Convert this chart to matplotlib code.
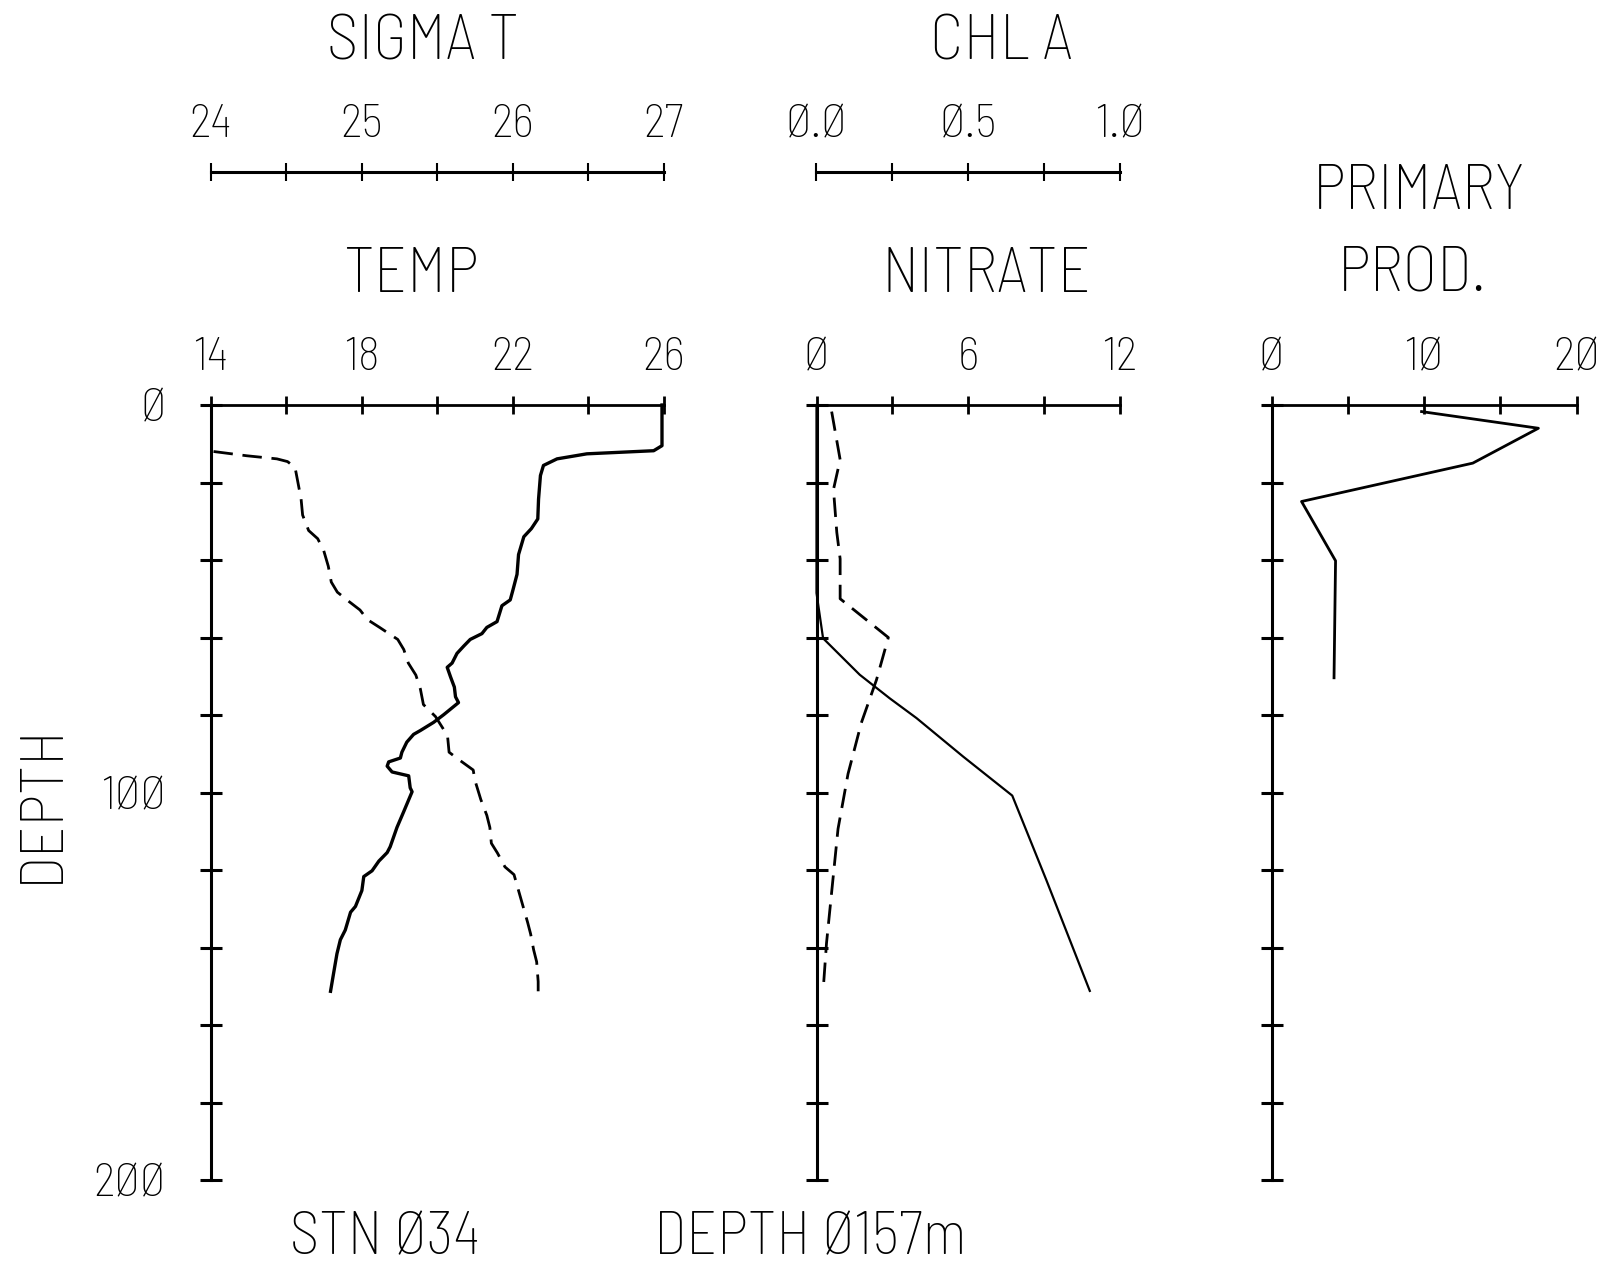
import matplotlib
matplotlib.use("Agg")
import matplotlib.pyplot as plt
from matplotlib import font_manager as fm
from matplotlib.ticker import FixedLocator, FixedFormatter

_names = {f.name for f in fm.fontManager.ttflist}
_pref = ['Barlow Semi Condensed', 'Barlow Condensed', 'Roboto Condensed', 'Liberation Sans Narrow',
         'PT Sans Narrow', 'Archivo Narrow', 'Fira Sans Condensed', 'DejaVu Sans']
FONT = next(n for n in _pref if n in _names)
plt.rcParams['font.family'] = [FONT, 'DejaVu Sans']
plt.rcParams['font.weight'] = 'light'

# ---------------- data ----------------
temp_depth = [0, 10.5, 11.8, 12.6, 13.9, 15.6, 18.2, 24.3, 29.4, 31.9, 34.0, 38.6, 43.7, 47.8,
              50.3, 51.8, 55.9, 57.4, 59.0, 60.5, 62.2, 64.1, 66.6, 67.7, 70.2, 72.8, 75.3,
              76.8, 79.9, 81.9, 84.0, 85.0, 87.0, 89.6, 91.1, 92.1, 93.2, 94.7, 95.7, 98.8,
              99.8, 104.9, 109.0, 114.0, 115.5, 117.7, 120.2, 121.7, 125.3, 129.4, 130.9,
              135.5, 138.0, 141.6, 146.7, 151.3]
temp_val = [25.96, 25.96, 25.74, 23.97, 23.18, 22.82, 22.74, 22.69, 22.67, 22.50, 22.30, 22.16,
            22.12, 22.01, 21.94, 21.72, 21.59, 21.32, 21.19, 20.88, 20.71, 20.53, 20.40, 20.27,
            20.36, 20.46, 20.49, 20.57, 20.18, 19.91, 19.56, 19.38, 19.20, 19.07, 19.03, 18.72,
            18.68, 18.81, 19.25, 19.29, 19.34, 19.12, 18.94, 18.76, 18.68, 18.46, 18.28, 18.06,
            18.01, 17.84, 17.71, 17.57, 17.44, 17.35, 17.26, 17.18]

sigma_depth = [12.0, 13.1, 13.9, 14.6, 16.1, 20.2, 24.3, 28.4, 32.4, 34.5, 37.6, 41.6, 45.7,
               48.3, 50.8, 52.9, 55.4, 57.4, 60.5, 63.1, 66.6, 69.7, 73.3, 77.3, 80.4, 83.5,
               85.5, 89.6, 91.1, 94.2, 96.7, 101.8, 105.9, 109.0, 113.1, 115.6, 119.2, 121.2,
               125.3, 129.4, 133.5, 136.5, 140.6, 143.7, 148.8, 151.3]
sigma_val = [24.02, 24.24, 24.44, 24.51, 24.56, 24.58, 24.60, 24.61, 24.65, 24.71, 24.75, 24.78,
             24.80, 24.84, 24.92, 24.99, 25.04, 25.12, 25.24, 25.28, 25.31, 25.36, 25.39, 25.41,
             25.49, 25.54, 25.57, 25.58, 25.63, 25.74, 25.75, 25.79, 25.83, 25.85, 25.86, 25.90,
             25.95, 26.01, 26.04, 26.07, 26.10, 26.12, 26.14, 26.16, 26.17, 26.17]

nitrate_depth = [0, 48.5, 60.2, 69.6, 75.7, 80.8, 90.7, 100.8, 122.6, 151.2]
nitrate_val = [0.0, 0.0, 0.26, 1.71, 2.90, 3.96, 5.80, 7.75, 9.10, 10.82]

chl_depth = [1.7, 14.1, 21.8, 32.9, 39.7, 50.0, 60.0, 70.9, 82.0, 95.2, 109.4, 138.9, 151.0]
chl_val = [0.050, 0.078, 0.056, 0.067, 0.078, 0.078, 0.237, 0.198, 0.148, 0.104, 0.071, 0.033, 0.022]

pp_depth = [1.7, 6.0, 15.0, 24.9, 40.2, 70.4]
pp_val = [9.84, 17.5, 13.2, 1.97, 4.2, 4.1]

depth_ticks = [0, 20, 40, 60, 80, 100, 120, 140, 160, 180, 200]
depth_labels = ['Ø', '', '', '', '', '1ØØ', '', '', '', '', '2ØØ']

temp_ticks = [14, 16, 18, 20, 22, 24, 26]
temp_labels = ['14', '', '18', '', '22', '', '26']
sigma_ticks = [24, 24.5, 25, 25.5, 26, 26.5, 27]
sigma_labels = ['24', '', '25', '', '26', '', '27']
nitrate_ticks = [0, 3, 6, 9, 12]
nitrate_labels = ['Ø', '', '6', '', '12']
chl_ticks = [0, 0.25, 0.5, 0.75, 1.0]
chl_labels = ['Ø.Ø', '', 'Ø.5', '', '1.Ø']
pp_ticks = [0, 5, 10, 15, 20]
pp_labels = ['Ø', '', '1Ø', '', '2Ø']

# ---------------- figure ----------------
W, H = 1618, 1269
fig = plt.figure(figsize=(W / 100, H / 100), dpi=100)

top_px, bot_px = 405, 1180
def frac_axes(x0, x1):
    return fig.add_axes([x0 / W, 1 - bot_px / H, (x1 - x0) / W, (bot_px - top_px) / H])

ax1 = frac_axes(210.5, 663.5)
ax2 = frac_axes(816.5, 1119.6)
ax3 = frac_axes(1271.5, 1576.5)
ax1s = ax1.twiny()
ax2c = ax2.twiny()

TICKFS = 34
LBLPAD_TOP = 12

def style_main(ax, xlim, xt, xl, show_depth_labels):
    ax.set_xlim(*xlim)
    ax.set_ylim(200, 0)
    for s in ('right', 'bottom'):
        ax.spines[s].set_visible(False)
    ax.spines['left'].set_linewidth(2.2)
    ax.spines['top'].set_linewidth(2.0)
    ax.xaxis.tick_top()
    ax.xaxis.set_major_locator(FixedLocator(xt))
    ax.xaxis.set_major_formatter(FixedFormatter(xl))
    ax.yaxis.set_major_locator(FixedLocator(depth_ticks))
    ax.yaxis.set_major_formatter(FixedFormatter(depth_labels if show_depth_labels else [''] * len(depth_ticks)))
    ax.tick_params(axis='x', direction='inout', length=13, width=2, pad=LBLPAD_TOP,
                   labelsize=TICKFS, top=True, bottom=False, labeltop=True, labelbottom=False)
    ax.tick_params(axis='y', direction='inout', length=16, width=2.2, pad=24,
                   labelsize=TICKFS, left=True, right=False, labelleft=show_depth_labels)
    ax.patch.set_visible(False)

OUT = (405 - 172) * 72 / 100  # points from panel top to upper scale line

def style_upper(axt, xlim, xt, xl):
    axt.set_xlim(*xlim)
    for s in ('left', 'right', 'bottom'):
        axt.spines[s].set_visible(False)
    axt.spines['top'].set_position(('outward', OUT))
    axt.spines['top'].set_linewidth(2.2)
    axt.xaxis.set_major_locator(FixedLocator(xt))
    axt.xaxis.set_major_formatter(FixedFormatter(xl))
    axt.tick_params(axis='x', direction='inout', length=13, width=1.5, pad=LBLPAD_TOP,
                    labelsize=TICKFS, top=True, bottom=False, labeltop=True, labelbottom=False)
    axt.tick_params(axis='y', left=False, right=False, labelleft=False, labelright=False)

style_upper(ax1s, (24, 27), sigma_ticks, sigma_labels)
style_upper(ax2c, (0, 1.0), chl_ticks, chl_labels)
style_main(ax1, (14, 26), temp_ticks, temp_labels, True)
style_main(ax2, (0, 12), nitrate_ticks, nitrate_labels, False)
style_main(ax3, (0, 20), pp_ticks, pp_labels, False)

# ---------------- lines ----------------
DASH = (7, 3.5)
ax1.plot(temp_val, temp_depth, color='black', lw=2.4, solid_joinstyle='round', clip_on=False)
ax1s.plot(sigma_val, sigma_depth, color='black', lw=2.0, dashes=DASH, clip_on=False)
ax2.plot(nitrate_val, nitrate_depth, color='black', lw=1.6, clip_on=False)
ax2c.plot(chl_val, chl_depth, color='black', lw=2.0, dashes=DASH, clip_on=False)
ax3.plot(pp_val, pp_depth, color='black', lw=2.0, clip_on=False)

# ---------------- text ----------------
TFS = 46
def ftext(xp, yp, s, size=TFS, va='center', **kw):
    fig.text(xp / W, 1 - yp / H, s, ha='center', va=va, fontsize=size, **kw)

ftext(423, 44, 'SIGMA T')
ftext(1001, 44, 'CHL A')
ftext(1419, 193, 'PRIMARY')
ftext(411, 276, 'TEMP')
ftext(986, 276, 'NITRATE')
ftext(1412, 276, 'PROD.')
ftext(42, 803, 'DEPTH', size=44, rotation=90)
ftext(385, 1254, 'STN Ø34', size=43, va='baseline')
ftext(810, 1254, 'DEPTH Ø157m', size=43, va='baseline')

fig.savefig('out.png', dpi=100)
